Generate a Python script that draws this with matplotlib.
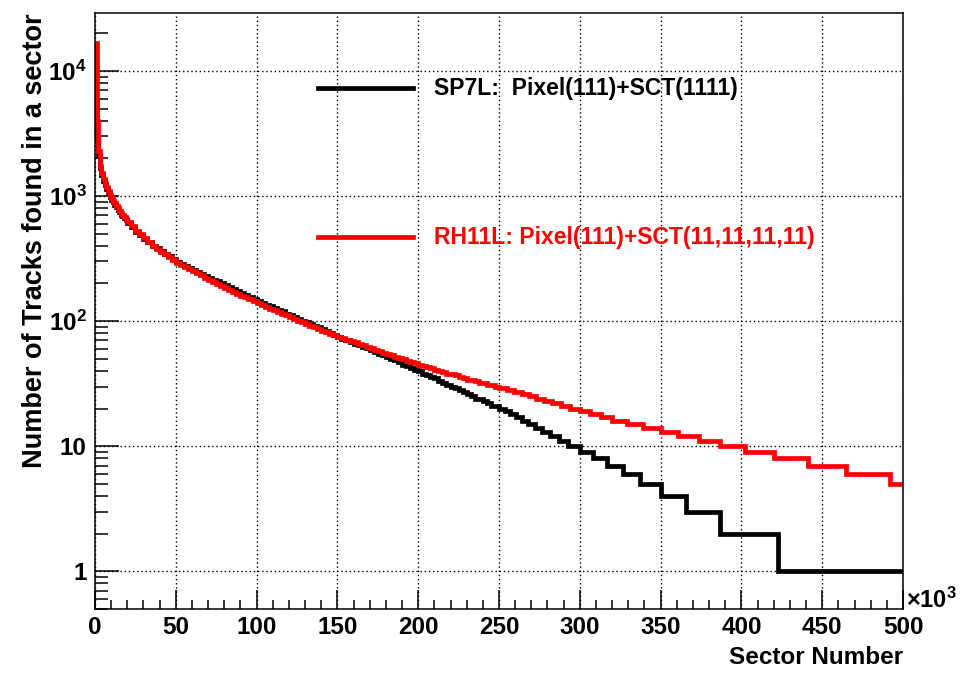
import numpy as np
import matplotlib
matplotlib.use('Agg')
import matplotlib.pyplot as plt
from matplotlib.ticker import MultipleLocator, FixedLocator, LogLocator, NullFormatter, FuncFormatter

plt.rcParams['font.family'] = ['Liberation Sans', 'DejaVu Sans']
plt.rcParams['font.weight'] = 'bold'
plt.rcParams['mathtext.fontset'] = 'custom'
plt.rcParams['mathtext.rm'] = 'Liberation Sans:bold'
plt.rcParams['mathtext.bf'] = 'Liberation Sans:bold'

# bin edges in units of 10^3 sectors: 1k bins up to 20, then 2.5k bins up to 250
smooth_edges = list(np.arange(0, 20, 1)) + list(np.arange(20, 250, 2.5))

# RH11L: Pixel(111)+SCT(11,11,11,11)
red_tail_edges = [250, 255, 259.5, 264, 268.5, 273, 278, 283, 288.5, 294, 300, 306.5,
                  313, 320, 329, 339, 350, 361, 374, 387, 402, 420, 441, 465, 492, 500]
red_counts = [16600, 4000, 2300, 1734, 1535, 1360, 1259, 1172, 1090, 1014,
              963, 919, 877, 837, 799, 762, 727, 704, 681, 659,
              622, 573, 529, 494, 461, 431, 402, 380, 360, 341, 324, 307,
              293, 282, 271, 261, 251, 241, 232, 223, 214, 206,
              199, 192, 185, 178, 172, 166, 160, 155, 149, 144,
              139, 135, 130, 126, 122, 118, 115, 111, 108, 104,
              101, 98, 95, 92, 90, 87, 84, 82, 79, 77,
              75, 73, 71, 69, 68, 66, 64, 62, 61, 59,
              58, 56, 55, 54, 52, 51, 50, 48, 47, 46,
              45, 44, 43, 42, 41, 40, 39, 38, 38, 37,
              36, 35, 34, 34, 33, 32, 32, 31, 31, 30,
              29, 28, 27, 26, 25, 24, 23, 22, 21, 20, 19, 18, 17,
              16, 15, 14, 13, 12, 11, 10, 9, 8, 7, 6, 5]

# SP7L: Pixel(111)+SCT(1111)
black_tail_edges = [250, 253.5, 257, 260.5, 264, 268, 272, 276.5, 281.5, 287, 293,
                    300, 308, 316.6, 327, 337, 350, 366, 387, 422.6, 500]
black_counts = [5700, 2900, 2100, 1680, 1480, 1310, 1215, 1130, 1055, 980,
                932, 890, 850, 812, 777, 742, 708, 687, 665, 644,
                608, 561, 519, 486, 455, 427, 400, 381, 363, 346, 330, 314,
                299, 288, 277, 267, 257, 247, 238, 229, 221, 213,
                208, 201, 193, 186, 180, 173, 167, 162, 156, 150,
                145, 140, 135, 131, 127, 123, 120, 115, 112, 108,
                104, 101, 98, 95, 92, 89, 86, 83, 80, 77,
                74, 72, 70, 68, 66, 64, 62, 61, 59, 57,
                55, 54, 52, 50, 49, 47, 45, 44, 42, 41,
                40, 38, 37, 36, 35, 33, 32, 31, 30, 29,
                28, 27, 26, 25, 24, 24, 23, 22, 21, 21,
                20, 19, 18, 17, 16, 15, 14, 13, 12, 11, 10, 9, 8, 7, 6, 5, 4, 3, 2, 1]

red_edges = smooth_edges + red_tail_edges
black_edges = smooth_edges + black_tail_edges

fig = plt.figure(figsize=(9.68, 6.74), dpi=100)
ax = fig.add_axes([0.0981, 0.0964, 0.8348, 0.8843])

ax.grid(True, which='major', color='black', linestyle=(0, (1, 2)), linewidth=1.0)
ax.set_axisbelow(True)

s1 = ax.stairs(black_counts, black_edges, baseline=None, color='black', linewidth=3.4)
s2 = ax.stairs(red_counts, red_edges, baseline=None, color='red', linewidth=3.4)
for s in (s1, s2):
    s.set_joinstyle('miter')
    s.set_capstyle('butt')

ax.set_yscale('log')
ax.set_xlim(0, 500)
ax.set_ylim(0.5, 2.9e4)

ax.xaxis.set_major_locator(MultipleLocator(50))
ax.xaxis.set_minor_locator(MultipleLocator(10))
ax.yaxis.set_major_locator(FixedLocator([1, 10, 100, 1e3, 1e4]))
ax.yaxis.set_minor_locator(LogLocator(base=10, subs=np.arange(2, 10)))
ax.yaxis.set_minor_formatter(NullFormatter())

def ylab(v, pos):
    if v < 5:
        return '1'
    if v < 50:
        return '10'
    return r'$\mathbf{10^{%d}}$' % int(round(np.log10(v)))

ax.yaxis.set_major_formatter(FuncFormatter(ylab))

ax.tick_params(which='both', direction='in', top=False, right=False, width=1.1,
               labelsize=17.5)
ax.tick_params(axis='y', which='major', length=17, pad=6)
ax.tick_params(axis='y', which='minor', length=9.5)
ax.tick_params(axis='x', which='major', length=13.5, pad=5)
ax.tick_params(axis='x', which='minor', length=6.5)
for sp in ax.spines.values():
    sp.set_linewidth(1.1)

ax.set_xlabel('Sector Number', loc='right', fontsize=17.5, fontweight='bold', labelpad=5)
ax.set_ylabel('Number of Tracks found in a sector', loc='top', fontsize=19.5,
              fontweight='bold', labelpad=0)

# legend drawn by hand, ROOT style
ax.plot([0.276, 0.394], [0.874, 0.874], color='black', lw=3.4, transform=ax.transAxes)
ax.text(0.419, 0.874, 'SP7L:  Pixel(111)+SCT(1111)', transform=ax.transAxes,
        fontsize=16.5, fontweight='bold', color='black', va='center', ha='left')
ax.plot([0.276, 0.394], [0.624, 0.624], color='red', lw=3.4, transform=ax.transAxes)
ax.text(0.419, 0.624, 'RH11L: Pixel(111)+SCT(11,11,11,11)', transform=ax.transAxes,
        fontsize=16.5, fontweight='bold', color='red', va='center', ha='left')

fig.text(906 / 968, 1 - 600 / 674, r'$\times\mathbf{10^{3}}$', fontsize=17,
         va='center', ha='left')

fig.savefig('out.png', dpi=100)
